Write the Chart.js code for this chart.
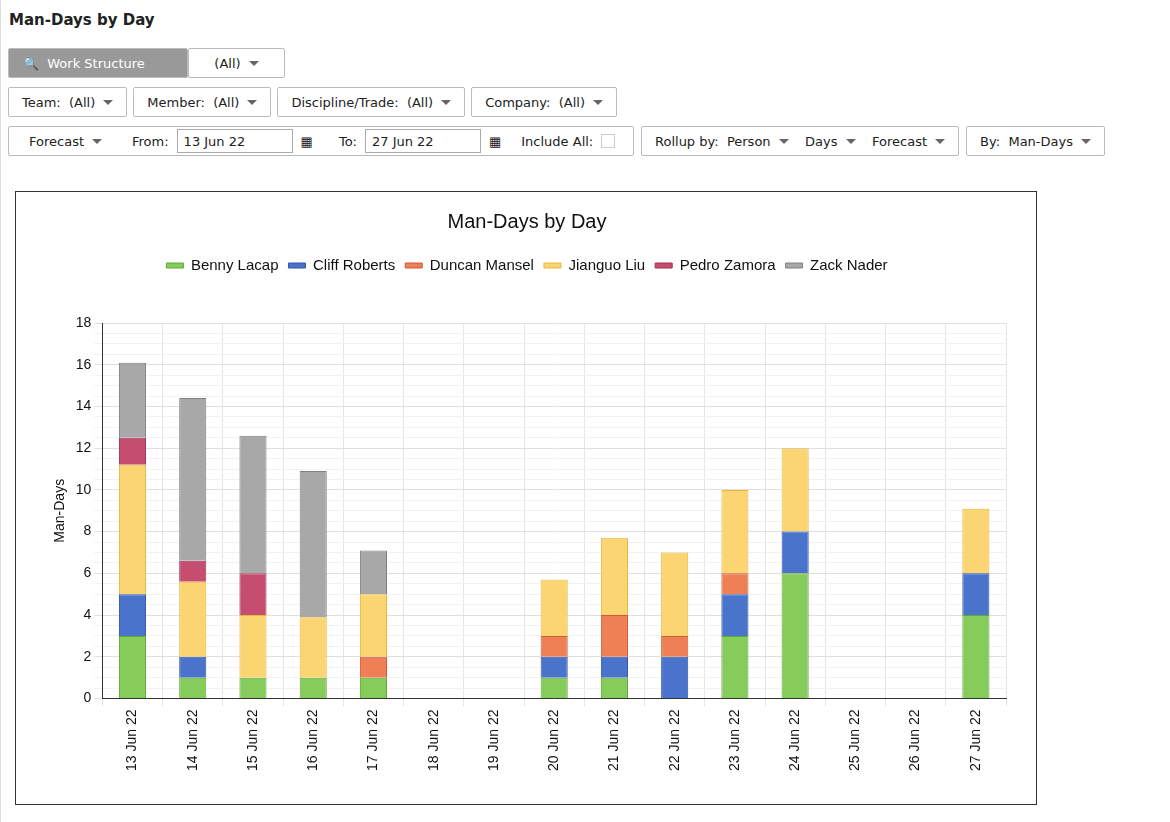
<!DOCTYPE html>
<html>
<head>
<meta charset="utf-8">
<script src="https://cdn.jsdelivr.net/npm/chart.js@4"></script>
<style>
  body { margin:0; font-family: Verdana, "DejaVu Sans", sans-serif; font-size:13px; color:#222; background:#fff; }
  h1 { font-size:15px; font-weight:bold; margin:0; position:absolute; left:9px; top:11px; }
  .row { position:absolute; left:8px; display:flex; gap:6px; }
  .box { border:1px solid #bbb; border-radius:2px; height:30px; display:flex; align-items:center; padding:0 13px; box-sizing:border-box; background:#fff; white-space:nowrap; }
  .caret { display:inline-block; width:0; height:0; border-left:5px solid transparent; border-right:5px solid transparent; border-top:5px solid #666; margin-left:8px; }
  .ws { background:#999; color:#fff; width:180px; padding-left:14px; }
  .inp { border:1px solid #aaa; height:24px; width:116px; padding:0 6px; display:inline-flex; align-items:center; margin:0 8px 0 8px; box-sizing:border-box; }
  #chartBox { position:absolute; left:15px; top:191px; width:1022px; height:614px; border:1px solid #333; box-sizing:border-box; }
  .frame { position:absolute; left:0; top:0; width:1px; height:822px; background:#ddd; }
</style>
</head>
<body>
<div class="frame"></div>
<h1>Man-Days by Day</h1>
<div class="row" style="top:48px;gap:0">
  <div class="box ws">&#128269;&nbsp; Work Structure</div>
  <div class="box" style="width:97px;justify-content:center">(All)<span class="caret"></span></div>
</div>
<div class="row" style="top:87px">
  <div class="box">Team:&nbsp; (All)<span class="caret"></span></div>
  <div class="box">Member:&nbsp; (All)<span class="caret"></span></div>
  <div class="box">Discipline/Trade:&nbsp; (All)<span class="caret"></span></div>
  <div class="box">Company:&nbsp; (All)<span class="caret"></span></div>
</div>
<div class="row" style="top:126px;gap:7px">
  <div class="box" style="width:626px;padding-left:20px">Forecast<span class="caret"></span>
    <span style="margin-left:30px">From:</span><span class="inp">13 Jun 22</span>&#9638;
    <span style="margin-left:26px">To:</span><span class="inp">27 Jun 22</span>&#9638;
    <span style="margin-left:20px">Include All:</span><span style="display:inline-block;width:12px;height:12px;border:1px solid #ccc;margin-left:8px"></span></div>
  <div class="box">Rollup by:&nbsp; Person<span class="caret"></span>&nbsp;&nbsp;&nbsp; Days<span class="caret"></span>&nbsp;&nbsp;&nbsp; Forecast<span class="caret"></span></div>
  <div class="box">By:&nbsp; Man-Days<span class="caret"></span></div>
</div>
<div id="chartBox"><canvas id="barChart"></canvas></div>
<script>
  // Données du graphique
  const labels = ['13 Jun 22','14 Jun 22','15 Jun 22','16 Jun 22','17 Jun 22','18 Jun 22','19 Jun 22','20 Jun 22','21 Jun 22','22 Jun 22','23 Jun 22','24 Jun 22','25 Jun 22','26 Jun 22','27 Jun 22'];
  const series = [
    { label: 'Benny Lacap',   color: '#86cc5a', border: '#5fa83a', data: [3,1,1,1,1,0,0,1,1,0,3,6,0,0,4] },
    { label: 'Cliff Roberts', color: '#4a74cc', border: '#2f55a8', data: [2,1,0,0,0,0,0,1,1,2,2,2,0,0,2] },
    { label: 'Duncan Mansel', color: '#ef8055', border: '#d05c34', data: [0,0,0,0,1,0,0,1,2,1,1,0,0,0,0] },
    { label: 'Jianguo Liu',   color: '#fbd572', border: '#e6b840', data: [6.2,3.6,3,2.9,3,0,0,2.7,3.7,4,4,4,0,0,3.1] },
    { label: 'Pedro Zamora',  color: '#c44d70', border: '#a02f52', data: [1.3,1,2,0,0,0,0,0,0,0,0,0,0,0,0] },
    { label: 'Zack Nader',    color: '#a8a8a8', border: '#808080', data: [3.6,7.8,6.6,7,2.1,0,0,0,0,0,0,0,0,0,0] }
  ];

  // Espace sous la légende
  const legendGap = {
    id: 'legendGap',
    beforeInit(chart) {
      const fit = chart.legend.fit;
      chart.legend.fit = function () { fit.bind(chart.legend)(); this.height += 40; };
    }
  };

  const config = {
    type: 'bar',
    data: {
      labels: labels,
      datasets: series.map(s => ({
        label: s.label,
        data: s.data,
        backgroundColor: s.color,
        borderColor: s.border,
        borderWidth: 1,
        barPercentage: 0.9,
        categoryPercentage: 0.5
      }))
    },
    options: {
      responsive: true,
      maintainAspectRatio: false,
      animation: false,
      layout: { padding: { left: 32, right: 30, top: 10, bottom: 30 } },
      plugins: {
        title: { display: true, text: 'Man-Days by Day', color: '#111', font: { family: 'Liberation Sans', size: 20, weight: 'normal' }, padding: { top: 8, bottom: 14 } },
        legend: {
          labels: { boxWidth: 17, boxHeight: 5, color: '#111', font: { family: 'Liberation Sans', size: 15 } }
        }
      },
      scales: {
        x: {
          stacked: true,
          grid: { color: '#e6e6e6', offset: true },
          border: { color: '#333' },
          ticks: { maxRotation: 90, minRotation: 90, color: '#111', font: { family: 'Liberation Sans', size: 14 } }
        },
        y: {
          stacked: true,
          min: 0, max: 18,
          title: { display: true, text: 'Man-Days', color: '#111', font: { family: 'Liberation Sans', size: 14 } },
          border: { color: '#333' },
          grid: { color: ctx => (ctx.tick && ctx.tick.value % 2 === 0) ? '#e0e0e0' : '#f2f2f2' },
          ticks: {
            stepSize: 0.5, autoSkip: false, color: '#111',
            font: { family: 'Liberation Sans', size: 14 },
            callback: v => (v % 2 === 0 ? v : '')
          }
        }
      }
    },
    plugins: [legendGap]
  };

  const ctx = document.getElementById('barChart').getContext('2d');
  const myChart = new Chart(ctx, config);
</script>
</body>
</html>
